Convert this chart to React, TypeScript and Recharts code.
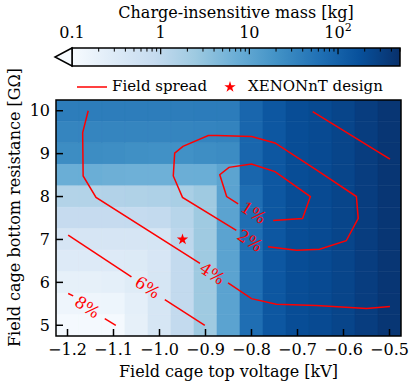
import React from "react"
import { ComposedChart, Line, ReferenceArea, ReferenceLine, Scatter, Symbols, XAxis, YAxis } from "recharts"

const FONT = "'DejaVu Serif', serif"
const RED = "#ff0000"

// grid axes
const voltages = [-1.2, -1.15, -1.1, -1.05, -1.0, -0.95, -0.9, -0.85, -0.8, -0.75, -0.7, -0.65, -0.6, -0.55, -0.5]
const resistances = [10, 9.5, 9, 8.5, 8, 7.5, 7, 6.5, 6, 5.5, 5]

// charge-insensitive mass [kg], one row per resistance, one value per voltage
const massR10 = [40, 40, 40, 40, 40, 40, 42, 42, 85, 140, 196, 214, 253, 327, 412]
const massR95 = [31, 31, 31, 31, 31, 31, 32, 33, 85, 140, 196, 214, 253, 327, 412]
const massR9 = [24, 24, 23, 22, 21, 21, 23, 25, 85, 140, 196, 214, 253, 327, 412]
const massR85 = [7.2, 7.2, 6.8, 6.6, 6.6, 7.0, 7.2, 10.5, 85, 140, 196, 214, 253, 327, 412]
const massR8 = [1.4, 1.4, 1.45, 1.5, 1.6, 1.8, 2.4, 10.7, 65, 140, 196, 214, 253, 327, 412]
const massR75 = [0.85, 0.85, 0.85, 0.86, 0.9, 1.26, 2.4, 10.7, 65, 140, 196, 214, 253, 327, 412]
const massR7 = [0.42, 0.42, 0.42, 0.42, 0.44, 1.07, 2.4, 10.7, 65, 140, 196, 214, 253, 327, 412]
const massR65 = [0.3, 0.3, 0.3, 0.32, 0.4, 0.91, 2.4, 10.7, 65, 140, 196, 214, 253, 327, 412]
const massR6 = [0.21, 0.21, 0.22, 0.28, 0.41, 0.91, 2.4, 10.7, 65, 140, 196, 214, 253, 327, 412]
const massR55 = [0.145, 0.145, 0.15, 0.22, 0.41, 0.91, 2.4, 10.7, 65, 140, 196, 214, 253, 327, 412]
const massR5 = [0.112, 0.112, 0.115, 0.21, 0.41, 0.91, 2.4, 10.7, 65, 140, 196, 214, 253, 327, 412]
const massRows = [massR10, massR95, massR9, massR85, massR8, massR75, massR7, massR65, massR6, massR55, massR5]

// field spread contours (v = top voltage, r = bottom resistance), split at the inline labels
const spread1 = [
  { v: -0.753, r: 7.44 }, { v: -0.689, r: 7.49 }, { v: -0.672, r: 8.0 }, { v: -0.749, r: 8.58 },
  { v: -0.8, r: 8.76 }, { v: -0.849, r: 8.68 }, { v: -0.869, r: 8.51 }, { v: -0.854, r: 8.0 },
  { v: -0.829, r: 7.83 },
]
const spread2 = [
  { v: -0.764, r: 6.83 }, { v: -0.702, r: 6.75 }, { v: -0.652, r: 6.77 }, { v: -0.594, r: 6.97 },
  { v: -0.568, r: 7.49 }, { v: -0.572, r: 8.0 }, { v: -0.659, r: 8.62 }, { v: -0.749, r: 9.25 },
  { v: -0.8, r: 9.4 }, { v: -0.876, r: 9.42 }, { v: -0.894, r: 9.42 }, { v: -0.949, r: 9.17 },
  { v: -0.967, r: 9.01 }, { v: -0.97, r: 8.48 }, { v: -0.95, r: 7.98 }, { v: -0.833, r: 7.21 },
]
const spread4a = [
  { v: -1.155, r: 10.0 }, { v: -1.167, r: 9.49 }, { v: -1.166, r: 8.48 }, { v: -1.138, r: 7.98 },
  { v: -0.912, r: 6.44 },
]
const spread4b = [
  { v: -0.851, r: 5.99 }, { v: -0.8, r: 5.62 }, { v: -0.746, r: 5.49 }, { v: -0.659, r: 5.46 },
  { v: -0.55, r: 5.39 }, { v: -0.499, r: 5.44 },
]
const spread6a = [{ v: -1.1985, r: 7.1 }, { v: -1.061, r: 6.13 }]
const spread6b = [{ v: -0.9885, r: 5.6 }, { v: -0.9015, r: 5.0 }]
const spread8a = [{ v: -1.1985, r: 5.74 }, { v: -1.1876, r: 5.685 }]
const spread8b = [{ v: -1.119, r: 5.157 }, { v: -1.095, r: 5.0 }]
const spreadTop = [{ v: -0.667, r: 9.98 }, { v: -0.499, r: 8.87 }]
const spreadSegments = [spread1, spread2, spread4a, spread4b, spread6a, spread6b, spread8a, spread8b, spreadTop]

const spreadLabels = [
  { v: -0.7957, r: 7.62, text: "1%" },
  { v: -0.8037, r: 6.97, text: "2%" },
  { v: -0.8855, r: 6.2, text: "4%" },
  { v: -1.026, r: 5.88, text: "6%" },
  { v: -1.157, r: 5.42, text: "8%" },
]

const design = [{ v: -0.95, r: 7.0 }]

const xTicks = [-1.2, -1.1, -1.0, -0.9, -0.8, -0.7, -0.6, -0.5]
const yTicks = [5, 6, 7, 8, 9, 10]

// colour bar
const massMin = 0.1
const massMax = 500
const cbMajor = [0.1, 1, 10, 100]
const cbMinor = [0.2, 0.3, 0.4, 0.5, 0.6, 0.7, 0.8, 0.9, 2, 3, 4, 5, 6, 7, 8, 9, 20, 30, 40, 50, 60, 70, 80, 90, 200, 300, 400, 500]

const BLUES = ["#f7fbff", "#deebf7", "#c6dbef", "#9ecae1", "#6baed6", "#4292c6", "#2171b5", "#08519c", "#08306b"]

function hexToRgb(h: string) {
  return [parseInt(h.slice(1, 3), 16), parseInt(h.slice(3, 5), 16), parseInt(h.slice(5, 7), 16)]
}

function massColor(m: number) {
  let t = (Math.log10(m) - Math.log10(massMin)) / (Math.log10(massMax) - Math.log10(massMin))
  t = Math.max(0, Math.min(1, t))
  const pos = t * (BLUES.length - 1)
  const i = Math.min(BLUES.length - 2, Math.floor(pos))
  const f = pos - i
  const a = hexToRgb(BLUES[i])
  const b = hexToRgb(BLUES[i + 1])
  const c = a.map((av, k) => Math.round(av + (b[k] - av) * f))
  return `rgb(${c[0]},${c[1]},${c[2]})`
}

const halfV = Math.abs(voltages[1] - voltages[0]) / 2
const halfR = Math.abs(resistances[0] - resistances[1]) / 2
const cells = resistances.flatMap((r, i) => voltages.map((v, j) => ({ v, r, m: massRows[i][j] })))

const fmtMinus = (v: number) => v.toFixed(1).replace("-", "\u2212")

function CbTick(props: any) {
  const { x, y, payload } = props
  if (payload.value === 100) {
    return (
      <text x={x} y={y} textAnchor="middle" fontFamily={FONT} fontSize={16} fill="#000">
        10<tspan dy={-7} fontSize={11}>2</tspan>
      </text>
    )
  }
  return (
    <text x={x} y={y} textAnchor="middle" fontFamily={FONT} fontSize={16} fill="#000">
      {String(payload.value)}
    </text>
  )
}

function ColorBar() {
  return (
    <ComposedChart width={415} height={70} margin={{ top: 20, right: 15, bottom: 4, left: 72 }}>
      <defs>
        <linearGradient id="bluesGrad" x1="0" y1="0" x2="1" y2="0">
          {BLUES.map((c, i) => (
            <stop key={i} offset={i / (BLUES.length - 1)} stopColor={c} />
          ))}
        </linearGradient>
      </defs>
      <XAxis
        xAxisId="cb"
        dataKey="x"
        type="number"
        scale="log"
        orientation="top"
        domain={[massMin, massMax]}
        ticks={cbMajor}
        height={28}
        tickLine={false}
        axisLine={false}
        tickSize={4}
        tickMargin={6}
        tick={<CbTick />}
      />
      <YAxis yAxisId="cb" dataKey="y" type="number" domain={[0, 1]} hide />
      <ReferenceArea xAxisId="cb" yAxisId="cb" x1={massMin} x2={massMax} y1={0} y2={1} fill="url(#bluesGrad)" fillOpacity={1} stroke="none" />
      {cbMinor.map((t) => (
        <ReferenceLine key={"mi" + t} xAxisId="cb" yAxisId="cb" segment={[{ x: t, y: 1 }, { x: t, y: 0.8 }]} stroke="#000" strokeWidth={1} />
      ))}
      {cbMajor.map((t) => (
        <ReferenceLine key={"ma" + t} xAxisId="cb" yAxisId="cb" segment={[{ x: t, y: 1 }, { x: t, y: 0.65 }]} stroke="#000" strokeWidth={1.2} />
      ))}
      <ReferenceArea xAxisId="cb" yAxisId="cb" x1={massMin} x2={massMax} y1={0} y2={1} fill="none" stroke="#000" strokeWidth={1.5} />
      <Scatter
        xAxisId="cb"
        yAxisId="cb"
        data={[{ x: massMin, y: 0.5 }]}
        isAnimationActive={false}
        shape={(p: any) => (
          <polygon
            points={`${p.cx},${p.cy - 9} ${p.cx - 17},${p.cy} ${p.cx},${p.cy + 9}`}
            fill={BLUES[0]}
            stroke="#000"
            strokeWidth={1.5}
          />
        )}
      />
    </ComposedChart>
  )
}

function LegendBox() {
  return (
    <svg width={415} height={24} style={{ position: "absolute", left: 0, top: 75 }}>
      <line x1={77} x2={107} y1={12} y2={12} stroke={RED} strokeWidth={1.5} />
      <text x={112} y={16} fontFamily={FONT} fontSize={15} fill="#000">Field spread</text>
      <Symbols type="star" size={40} cx={230} cy={12} fill={RED} />
      <text x={248} y={16} fontFamily={FONT} fontSize={15} fill="#000">XENONnT design</text>
    </svg>
  )
}

export default function App() {
  return (
    <div style={{ position: "absolute", left: 0, top: 0, width: 415, height: 387, background: "#fff" }}>
      <div style={{ position: "absolute", left: 0, top: 0 }}>
        <svg width={415} height={30} style={{ position: "absolute", left: 0, top: 0 }}>
          <text x={236} y={18} textAnchor="middle" fontFamily={FONT} fontSize={16} fill="#000">
            Charge-insensitive mass [kg]
          </text>
        </svg>
        <ColorBar />
      </div>
      <LegendBox />
      <div style={{ position: "absolute", left: 0, top: 0 }}>
        <ComposedChart width={415} height={387} margin={{ top: 100, right: 14, bottom: 0, left: 0 }}>
          {cells.map((c, i) => (
            <ReferenceArea
              key={i}
              x1={c.v - halfV}
              x2={c.v + halfV}
              y1={c.r - halfR}
              y2={c.r + halfR}
              fill={massColor(c.m)}
              fillOpacity={1}
              stroke={massColor(c.m)}
              strokeWidth={0.6}
              ifOverflow="hidden"
            />
          ))}
          {spreadSegments.map((seg, i) => (
            <Line
              key={"s" + i}
              data={seg}
              dataKey="r"
              type="linear"
              stroke={RED}
              strokeWidth={1.5}
              dot={false}
              activeDot={false}
              isAnimationActive={false}
            />
          ))}
          <Scatter
            data={spreadLabels}
            dataKey="r"
            isAnimationActive={false}
            shape={(p: any) => (
              <text
                x={p.cx}
                y={p.cy}
                transform={`rotate(33 ${p.cx} ${p.cy})`}
                textAnchor="middle"
                dominantBaseline="central"
                fontFamily={FONT}
                fontSize={16.5}
                fill={RED}
              >
                {p.payload.text}
              </text>
            )}
          />
          <Scatter
            data={design}
            dataKey="r"
            isAnimationActive={false}
            shape={(p: any) => <Symbols type="star" size={40} cx={p.cx} cy={p.cy} fill={RED} />}
          />
          <ReferenceArea
            x1={-1.225}
            x2={-0.475}
            y1={4.75}
            y2={10.25}
            fill="none"
            stroke="#000"
            strokeWidth={1.5}
            ifOverflow="visible"
          />
          <XAxis
            dataKey="v"
            type="number"
            domain={[-1.225, -0.475]}
            ticks={xTicks}
            tickFormatter={fmtMinus}
            height={51}
            axisLine={false}
            tickSize={-7}
            tickMargin={14.5}
            tickLine={{ stroke: "#000", strokeWidth: 1.5 }}
            tick={{ fill: "#000", fontSize: 16, fontFamily: FONT }}
            allowDataOverflow
            label={{ value: "Field cage top voltage [kV]", position: "insideBottom", offset: 10, fill: "#000", fontSize: 16, fontFamily: FONT }}
          />
          <YAxis
            dataKey="r"
            type="number"
            domain={[4.75, 10.25]}
            ticks={yTicks}
            width={56}
            axisLine={false}
            tickSize={-7}
            tickMargin={13}
            tickLine={{ stroke: "#000", strokeWidth: 1.5 }}
            tick={{ fill: "#000", fontSize: 16, fontFamily: FONT }}
            allowDataOverflow
            label={(lp: any) => {
              const vb = lp.viewBox || { x: 0, y: 100, width: 56, height: 236 }
              const cx = vb.x + 14
              const cy = vb.y + vb.height / 2 - 10.5
              return (
                <text
                  x={cx}
                  y={cy}
                  transform={`rotate(-90 ${cx} ${cy})`}
                  textAnchor="middle"
                  dominantBaseline="central"
                  fontFamily={FONT}
                  fontSize={16}
                  fill="#000"
                >
                  Field cage bottom resistance [GΩ]
                </text>
              )
            }}
          />
        </ComposedChart>
      </div>
    </div>
  )
}
